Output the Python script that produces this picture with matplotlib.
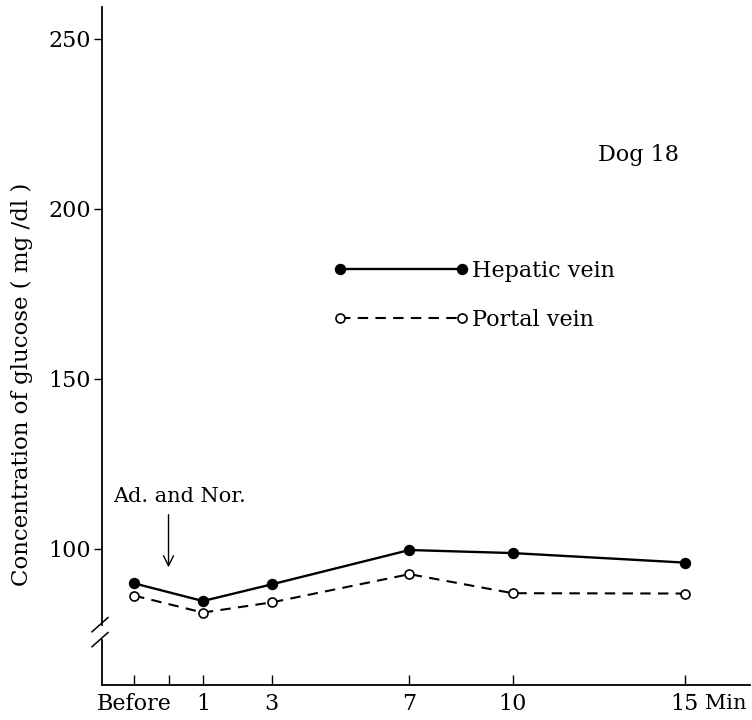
import matplotlib
matplotlib.use("Agg")
import matplotlib.pyplot as plt
from matplotlib.legend_handler import HandlerLine2D

plt.rcParams['font.family'] = ['DejaVu Serif']

# time after injection (min); "Before" sits at -1
minutes = [-1, 1, 3, 7, 10, 15]
hepatic = [89.9, 84.7, 89.6, 99.7, 98.8, 96.0]
portal = [86.3, 81.3, 84.3, 92.6, 87.0, 86.9]

tick_pos = [-1, 0, 1, 3, 7, 10, 15]
tick_lab = ['Before', '', '1', '3', '7', '10', '15']
y_ticks = [100, 150, 200, 250]

fig = plt.figure(figsize=(7.52, 7.2), dpi=100)
ax = fig.add_axes([0.1356, 0.0486, 0.8614, 0.9417])

ax.plot(minutes, hepatic, '-o', color='black', lw=1.7, ms=7.2,
        mfc='black', mec='black', label='Hepatic vein')
ax.plot(minutes, portal, '--o', color='black', lw=1.5, ms=6.5,
        mfc='white', mec='black', mew=1.2, dashes=(5, 3.5), label='Portal vein')

ax.set_xlim(-1.934, 16.89)
ax.set_ylim(60, 259.4)

ax.set_xticks(tick_pos)
ax.set_xticklabels(tick_lab)
ax.set_yticks(y_ticks)
ax.tick_params(axis='x', direction='in', length=7, width=1, pad=6, labelsize=16)
ax.tick_params(axis='y', direction='out', length=6, width=1, pad=2, labelsize=16)

for s in ['top', 'right']:
    ax.spines[s].set_visible(False)
ax.spines['bottom'].set_linewidth(1.3)
ax.spines['left'].set_linewidth(1.3)
ax.spines['left'].set_bounds(77.6, 259.4)

# lower stub of the y axis below the break
ax.plot([0, 0], [60, 73.2], transform=ax.get_yaxis_transform(),
        color='black', lw=1.3, clip_on=False)
# break marks
for yc in [0.0885, 0.0664]:
    ax.plot([-0.0154, 0.0093], [yc - 0.010, yc + 0.011], transform=ax.transAxes,
            color='black', lw=1.1, clip_on=False)

ax.legend(loc='center left', bbox_to_anchor=(0.367, 0.5745), frameon=False,
          fontsize=16, handlelength=5.5, handletextpad=0.45, numpoints=2,
          labelspacing=1.2, borderpad=0, borderaxespad=0,
          handler_map={plt.Line2D: HandlerLine2D(marker_pad=0)})

ax.text(12.47, 215.9, 'Dog 18', fontsize=16, va='center', ha='left')

ax.text(0.32, 115.3, 'Ad. and Nor.', fontsize=15, ha='center', va='center')
ax.annotate('', xy=(0, 93.8), xytext=(0, 110.9),
            arrowprops=dict(arrowstyle='->', lw=1, color='black',
                            mutation_scale=18))

ax.annotate('Min', xy=(15.58, 0), xycoords=('data', 'axes fraction'),
            xytext=(0, -6.5), textcoords='offset points',
            fontsize=15, ha='left', va='top')

fig.text(22 / 752, 1 - 384 / 720, 'Concentration of glucose ( mg /dl )',
         rotation=90, ha='center', va='center', fontsize=16.5)

fig.savefig('out.png', dpi=100)
